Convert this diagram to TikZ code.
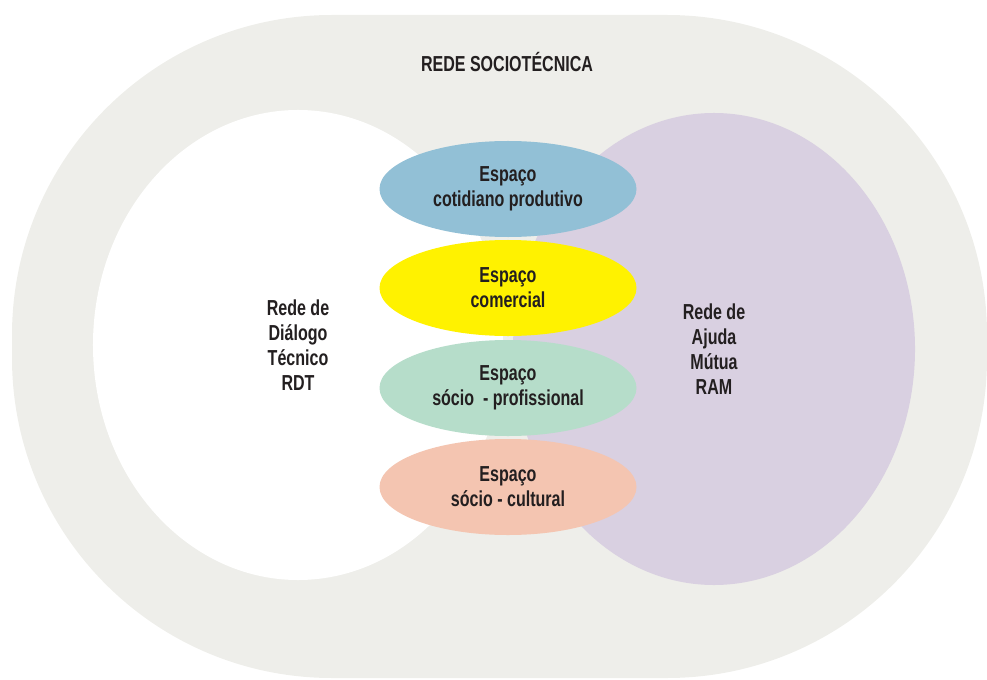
\documentclass[tikz,border=0pt]{standalone}
\usepackage{fontspec}
\setmainfont{Liberation Sans}[FakeStretch=0.74]
\usetikzlibrary{shapes.geometric}

\definecolor{redegray}{HTML}{EEEEEA}
\definecolor{ramlilac}{HTML}{D9D0E1}
\definecolor{espblue}{HTML}{92C0D6}
\definecolor{espyellow}{HTML}{FFF200}
\definecolor{espgreen}{HTML}{B6DDCA}
\definecolor{espsalmon}{HTML}{F4C5B1}
\definecolor{txtdark}{HTML}{231F20}

\begin{document}
\begin{tikzpicture}[x=0.03cm, y=-0.03cm,
    every node/.style={font=\bfseries\fontsize{18.5}{21.5}\selectfont, text=txtdark, align=center},
    rede/.style={ellipse, inner sep=0pt},
    espaco/.style={ellipse, inner sep=0pt, minimum width=7.71cm, minimum height=2.88cm}]
  \useasboundingbox (0,0) rectangle (987,680);

  % Outer network
  \fill[redegray, rounded corners=9.6cm] (12,15) rectangle (987,678);
  \node[font=\bfseries\fontsize{18.5}{20}\selectfont] (titulo) at (507,62) {REDE SOCIOTÉCNICA};

  % Networks
  \node[rede, fill=white, minimum width=12.3cm, minimum height=14.1cm] (rdt) at (298,345) {Rede de\\Diálogo\\Técnico\\RDT};
  \node[rede, fill=ramlilac, minimum width=12.06cm, minimum height=14.16cm] (ram) at (714,349) {Rede de\\Ajuda\\Mútua\\RAM};

  % Spaces
  \node[espaco, fill=espblue] (cotidiano) at (508,189) {Espaço\\cotidiano produtivo};
  \node[espaco, fill=espyellow] (comercial) at (508,288) {Espaço\\comercial};
  \node[espaco, fill=espgreen] (profissional) at (508,388) {Espaço\\sócio\ \ - profissional};
  \node[espaco, fill=espsalmon] (cultural) at (508,487) {Espaço\\sócio - cultural};
\end{tikzpicture}
\end{document}
